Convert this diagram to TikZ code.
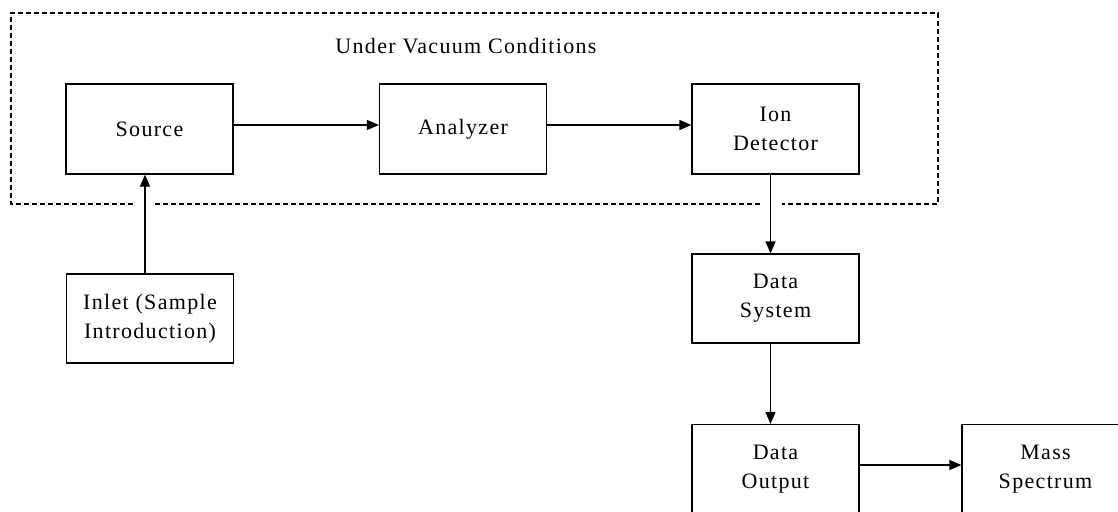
\documentclass[tikz,border=0pt]{standalone}
\usepackage{fontspec}
\setmainfont{Liberation Serif}[LetterSpace=6]
\usetikzlibrary{arrows.meta}

\begin{document}
\begin{tikzpicture}[x=1pt,y=-1pt,>={Triangle[length=12pt,width=10pt]},line width=1.2pt,
    blk/.style={draw,minimum width=167pt,minimum height=90pt,inner sep=0pt,align=center,
      font=\fontsize{22}{29}\selectfont}]
    \useasboundingbox (0,0) rectangle (1118,511);
    \clip (0,0) rectangle (1118,511);
    % vacuum region
    \draw[dash pattern=on 5pt off 3pt,line width=1.1pt] (133,204) -- (11,204) -- (11,13) -- (938,13) -- (938,204) -- (782,204);
    \draw[dash pattern=on 5pt off 3pt,line width=1.1pt] (760,204) -- (155,204);
    \node[font=\fontsize{22}{29}\selectfont] (vac) at (466,46) {Under Vacuum Conditions};
    % blocks
    \node[blk] (src) at (149.5,129) {Source};
    \node[blk] (ana) at (463,129) {Analyzer};
    \node[blk] (ion) at (775.5,129) {Ion\\Detector};
    \node[blk,minimum height=89pt] (inlet) at (150,318.5) {Inlet (Sample\\Introduction)};
    \node[blk,minimum height=89pt] (dsys) at (775.5,298.5) {Data\\System};
    \node[blk] (dout) at (775.5,469.5) {Data\\Output};
    \node[blk] (spec) at (1045.5,469.5) {Mass\\Spectrum};
    % connectors
    \draw[->] ([yshift=4pt]src.east) -- ([yshift=4pt]ana.west);
    \draw[->] ([yshift=4pt]ana.east) -- ([yshift=4pt]ion.west);
    \draw[->] ([xshift=-5pt]inlet.north) -- ([xshift=-5pt]inlet.north |- src.south);
    \draw[->] ([xshift=-5pt]ion.south) -- ([xshift=-5pt]dsys.north);
    \draw[->] ([xshift=-5pt]dsys.south) -- ([xshift=-5pt]dout.north);
    \draw[->] ([yshift=4.5pt]dout.east) -- ([yshift=4.5pt]spec.west);
\end{tikzpicture}
\end{document}
